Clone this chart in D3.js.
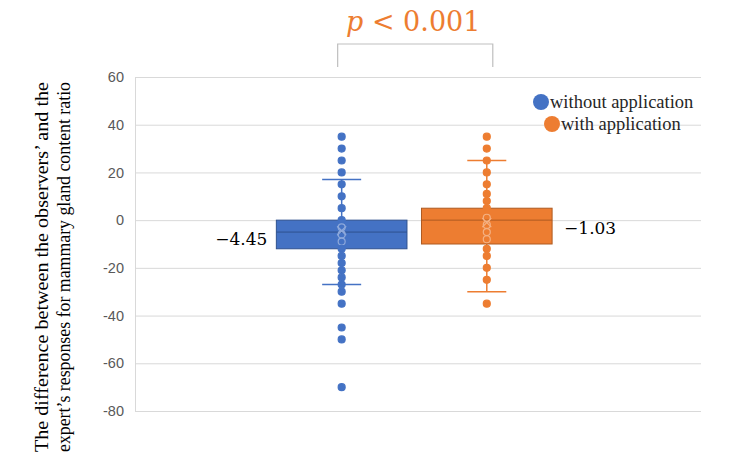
<!DOCTYPE html>
<html>
<head>
<meta charset="utf-8">
<script src="https://cdn.jsdelivr.net/npm/d3@7"></script>
<style>
  html, body { margin: 0; padding: 0; background: #fff; }
  #chart { width: 750px; height: 469px; }
</style>
</head>
<body>
<div id="chart"></div>
<script>
// ─── DATA ───
const groups = ["without application", "with application"];
const colors = ["#4472C4", "#ED7D31"];
const darkColors = ["#2F528F", "#AE5A21"];
const lightColors = ["#8EA9DB", "#F4B183"];

const pointsWithout = [35, 30, 25, 20, 15, 10, 5, 0, -3, -6, -9, -12, -15, -18, -21, -24, -27, -30, -35, -45, -50, -70];
const pointsWith = [35, 30, 25, 20, 15, 11, 8, 5, 1, -2, -5, -8, -12, -15, -20, -25, -35];

const q1 = [-12, -10];
const medians = [-5, 0];
const q3 = [0, 5];
const whiskerLow = [-27, -30];
const whiskerHigh = [17, 25];
const means = [-4.45, -1.03];
const meanLabels = ["\u22124.45", "\u22121.03"];

const yTicks = [60, 40, 20, 0, -20, -40, -60, -80];
const yTitle = ["The difference between the observers\u2019 and the",
                "expert\u2019s responses for mammary gland content ratio"];
const pLabel = ["p", " < 0.001"];

const points = [pointsWithout, pointsWith];

// ─── LAYOUT ───
const width = 750, height = 469;
const margin = { top: 77, right: 49, bottom: 58, left: 135 };

const svg = d3.select("#chart").append("svg")
    .attr("width", width)
    .attr("height", height);

const x = d3.scaleBand()
    .domain(groups)
    .range([margin.left, width - margin.right])
    .paddingInner(0.1)
    .paddingOuter(1)
    .align(0.487);

const y = d3.scaleLinear()
    .domain([-80, 60])
    .range([height - margin.bottom, margin.top]);

// gridlines + left axis
svg.append("g")
    .attr("transform", `translate(${margin.left},0)`)
    .call(d3.axisLeft(y).tickValues(yTicks).tickSize(0).tickPadding(11)
        .tickFormat(d => d < 0 ? "-" + Math.abs(d) : d))
    .call(g => g.select(".domain").attr("stroke", "#d9d9d9"))
    .call(g => g.selectAll(".tick text")
        .attr("fill", "#595959")
        .attr("font-family", "Liberation Sans, Arial, sans-serif")
        .attr("font-size", "14.5px"))
    .call(g => g.selectAll(".tick").append("line")
        .attr("x2", width - margin.left - margin.right)
        .attr("stroke", "#d9d9d9"));

// ─── BOXES ───
const bw = x.bandwidth();
const capW = 39;

groups.forEach((gname, i) => {
    const cx = x(gname) + bw / 2;
    const g = svg.append("g");

    // whiskers
    g.append("line")
        .attr("x1", cx).attr("x2", cx)
        .attr("y1", y(whiskerHigh[i])).attr("y2", y(q3[i]))
        .attr("stroke", colors[i]).attr("stroke-width", 1.5);
    g.append("line")
        .attr("x1", cx).attr("x2", cx)
        .attr("y1", y(q1[i])).attr("y2", y(whiskerLow[i]))
        .attr("stroke", colors[i]).attr("stroke-width", 1.5);
    [whiskerHigh[i], whiskerLow[i]].forEach(v => {
        g.append("line")
            .attr("x1", cx - capW / 2).attr("x2", cx + capW / 2)
            .attr("y1", y(v)).attr("y2", y(v))
            .attr("stroke", colors[i]).attr("stroke-width", 1.5);
    });

    // box
    g.append("rect")
        .attr("x", x(gname))
        .attr("width", bw)
        .attr("y", y(q3[i]))
        .attr("height", y(q1[i]) - y(q3[i]))
        .attr("fill", colors[i])
        .attr("stroke", darkColors[i])
        .attr("stroke-width", 1);

    g.append("line")
        .attr("x1", x(gname)).attr("x2", x(gname) + bw)
        .attr("y1", y(medians[i])).attr("y2", y(medians[i]))
        .attr("stroke", darkColors[i]).attr("stroke-width", 1);

    // points
    g.selectAll("circle")
        .data(points[i])
        .join("circle")
        .attr("cx", cx)
        .attr("cy", d => y(d))
        .attr("r", 3.5)
        .attr("fill", d => (d > q1[i] && d < q3[i]) ? "none" : colors[i])
        .attr("stroke", d => (d > q1[i] && d < q3[i]) ? lightColors[i] : colors[i])
        .attr("stroke-width", 1.2);

    // mean marker (x)
    const my = y(means[i]), s = 4.5;
    g.append("path")
        .attr("d", `M${cx - s},${my - s}L${cx + s},${my + s}M${cx - s},${my + s}L${cx + s},${my - s}`)
        .attr("stroke", lightColors[i])
        .attr("stroke-width", 1.3);

    // mean label
    const left = i === 0;
    g.append("text")
        .attr("x", left ? x(gname) - 9 : x(gname) + bw + 12)
        .attr("y", my + (left ? 14 : 11))
        .attr("text-anchor", left ? "end" : "start")
        .attr("font-family", "DejaVu Serif, serif")
        .attr("font-size", "17px")
        .attr("fill", "#000")
        .text(meanLabels[i]);
});

// ─── SIGNIFICANCE BRACKET ───
const c0 = x(groups[0]) + bw / 2 - 4;
const c1 = x(groups[1]) + bw / 2 + 6;
svg.append("path")
    .attr("d", `M${c0},67V44H${c1}V67`)
    .attr("fill", "none")
    .attr("stroke", "#bfbfbf")
    .attr("stroke-width", 1.2);

const pText = svg.append("text")
    .attr("x", (c0 + c1) / 2 - 2)
    .attr("y", 31)
    .attr("text-anchor", "middle")
    .attr("font-family", "DejaVu Serif, serif")
    .attr("font-size", "27px")
    .attr("fill", "#ED7D31");
pText.append("tspan").attr("font-style", "italic").text(pLabel[0]);
pText.append("tspan").text(pLabel[1]);

// ─── LEGEND ───
const legend = svg.append("g");
const legendPos = [[541, 102], [552, 124]];
groups.forEach((gname, i) => {
    legend.append("circle")
        .attr("cx", legendPos[i][0])
        .attr("cy", legendPos[i][1])
        .attr("r", 8)
        .attr("fill", colors[i]);
    legend.append("text")
        .attr("x", legendPos[i][0] + 9)
        .attr("y", legendPos[i][1] + 6)
        .attr("font-family", "Liberation Serif, Times New Roman, serif")
        .attr("font-size", "18.5px")
        .attr("fill", "#262626")
        .text(gname);
});

// ─── Y TITLE ───
const titleY = 267;
yTitle.forEach((t, i) => {
    svg.append("text")
        .attr("transform", `translate(${48 + i * 22},${titleY}) rotate(-90)`)
        .attr("text-anchor", "middle")
        .attr("font-family", "Liberation Serif, Times New Roman, serif")
        .attr("font-size", "19px")
        .attr("textLength", 370)
        .attr("lengthAdjust", "spacingAndGlyphs")
        .attr("fill", "#000")
        .text(t);
});
</script>
</body>
</html>
